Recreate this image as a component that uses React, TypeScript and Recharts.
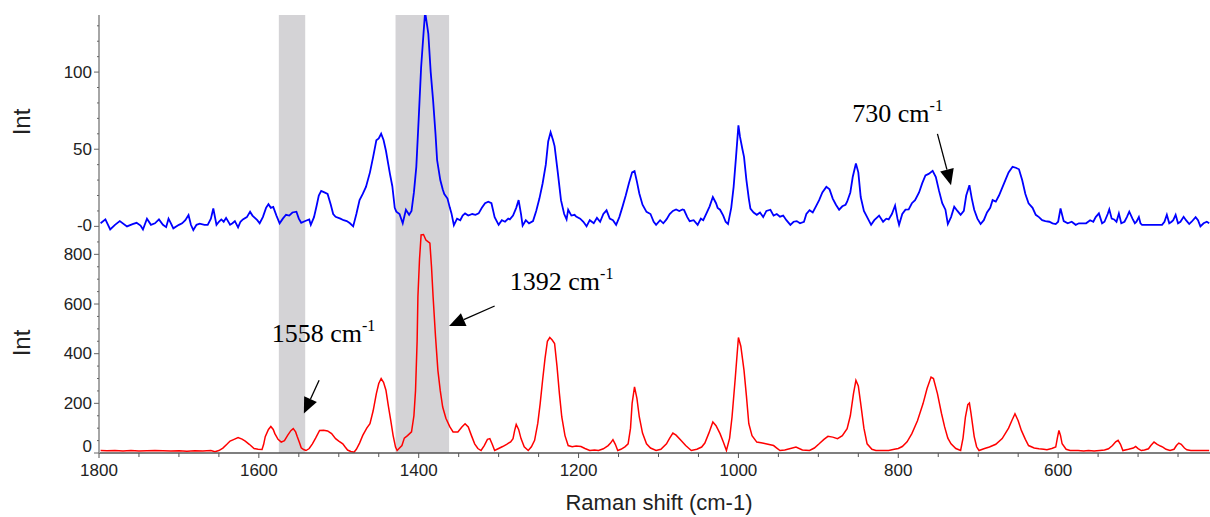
import { LineChart, Line, XAxis, YAxis, ReferenceArea, ReferenceLine, ReferenceDot } from 'recharts'

// top spectrum (blue)
const blueShift = [
  1798, 1792, 1786, 1780, 1774, 1765, 1758, 1753, 1748, 1745,
  1740, 1735, 1730, 1725, 1720, 1716, 1713, 1710, 1707, 1700,
  1696, 1692, 1688, 1685, 1682, 1678, 1674, 1668, 1664, 1660,
  1657, 1653, 1650, 1647, 1644, 1641, 1636, 1633, 1630, 1626,
  1623, 1620, 1615, 1611, 1608, 1605, 1602, 1599, 1595, 1591,
  1588, 1585, 1582, 1578, 1574, 1570, 1566, 1562, 1558, 1553,
  1550, 1547, 1542, 1537, 1535, 1531, 1528, 1525, 1522, 1518,
  1514, 1510, 1507, 1504, 1498, 1494, 1490, 1486, 1482, 1478,
  1474, 1470, 1466, 1461, 1457, 1453, 1450, 1447, 1444, 1441,
  1438, 1436, 1433, 1430, 1428, 1424, 1420, 1416, 1412, 1409,
  1406, 1403, 1400, 1397, 1394, 1392, 1390, 1388, 1385, 1382,
  1379, 1377, 1373, 1370, 1368, 1364, 1361, 1359, 1356, 1352,
  1348, 1345, 1342, 1338, 1333, 1329, 1325, 1321, 1317, 1313,
  1309, 1305, 1300, 1296, 1292, 1288, 1286, 1282, 1278, 1275,
  1272, 1270, 1266, 1262, 1257, 1253, 1249, 1245, 1241, 1238,
  1235, 1232, 1230, 1226, 1222, 1218, 1215, 1213, 1209, 1205,
  1203, 1198, 1194, 1190, 1186, 1181, 1177, 1173, 1169, 1165,
  1161, 1157, 1153, 1149, 1145, 1141, 1137, 1133, 1130, 1127,
  1124, 1120, 1115, 1110, 1106, 1103, 1098, 1094, 1090, 1086,
  1082, 1078, 1074, 1070, 1068, 1064, 1061, 1056, 1051, 1047,
  1044, 1040, 1036, 1032, 1028, 1026, 1023, 1019, 1016, 1013,
  1009, 1006, 1003, 1000, 998, 995, 993, 990, 987, 985,
  981, 977, 973, 969, 965, 960, 956, 952, 948, 944,
  940, 935, 931, 927, 923, 918, 915, 911, 907, 903,
  899, 895, 890, 886, 882, 878, 874, 870, 866, 864,
  860, 857, 853, 850, 847, 843, 838, 834, 830, 826,
  824, 819, 815, 812, 808, 804, 801, 799, 795, 791,
  787, 783, 779, 774, 770, 766, 762, 757, 753, 749,
  745, 741, 738, 734, 730, 726, 722, 718, 715, 711,
  708, 705, 701, 697, 693, 689, 685, 682, 678, 674,
  670, 666, 662, 657, 653, 649, 645, 641, 637, 632,
  628, 624, 620, 616, 611, 607, 603, 600, 597, 593,
  588, 583, 578, 574, 570, 565, 560, 556, 553, 549,
  545, 542, 538, 536, 533, 530, 527, 524, 521, 517,
  514, 511, 507, 504, 502, 499, 497, 495, 490, 485,
  480, 475, 470, 467, 464, 461, 458, 456, 453, 450,
  447, 443, 440, 436, 433, 428, 425, 422, 418, 414,
  411,
]
const blueInt = [
  2, 4.5, -2, 1, 3.4, 0, 1.5, 2.3, 0.5, -2,
  5, 1, 2, 4.5, 1, -0.5, 5, 2, -1.3, 1,
  2, 4, 7.3, 1, -2.4, 1, 1.7, 1, 1, 5,
  11.6, 1, 3, 4.5, 3, 5.5, 1, 2, 3.4, -0.7,
  3, 4.5, 6, 9.5, 7, 5.5, 4, 2, 6, 12,
  14.4, 12, 12.6, 7, 2, 5, 7.5, 7, 9, 9.5,
  5, 2.3, 3.5, 4.5, 1, 6, 12.7, 20, 23, 22,
  21, 14, 8, 6.2, 5, 4, 3.4, 2, 0, 8,
  17, 21, 25.6, 35, 45, 55.8, 57, 60, 56, 49,
  40, 34, 26, 12, 9.5, 8, 2, 10.8, 7.5, 10,
  22, 38.6, 70, 103, 125, 139, 132, 125, 100, 81.7,
  60, 43, 30, 24, 21, 18, 12, 8.4, 0.8, 5,
  4, 7, 8.4, 7, 8, 7.5, 8.4, 12, 15, 16,
  15, 6, 1, 4, 3, 5, 4.5, 7, 12, 17,
  8, 0.5, 4, 2, 3.4, 10, 18, 27.8, 40, 55,
  61, 56, 52, 35, 17, 8, 4.5, 10.8, 7, 7.5,
  6.3, 5, 3, 0, 4, 2, 5.5, 3, 8, 10.4,
  5, 4, 1, 6, 12.8, 20, 28, 35, 35.8, 29,
  21.3, 14, 9.4, 8, 3, 1, 4, 2, 4.5, 8,
  10, 11, 10, 11, 10.6, 6, 3.4, 4, 1, 5,
  4, 8.4, 13, 19, 15, 12, 10.8, 7, 3, 1.5,
  12, 25.6, 45, 65.5, 58, 50, 45, 30, 18, 11.5,
  9, 7.5, 9, 6, 10, 10.8, 7, 8, 6.3, 7,
  4, 1, 3, 3.4, 2, 3, 8, 10.5, 9, 13,
  17, 22, 25.6, 24, 18, 14, 10.8, 13, 14, 16,
  22, 32, 40.7, 35, 19, 10, 5, 1, 4, 6,
  7, 3, 5, 4.5, 8, 13.5, 5, 1, 8, 10.8,
  11, 15, 17, 22, 28, 33, 34, 36, 32, 23,
  15, 10.8, 1.5, 6, 12.8, 10, 7.5, 10, 20, 26.7,
  18, 10.8, 5, 1.5, 4, 9, 12, 17, 16, 20,
  25, 30, 35, 38.6, 38, 37, 30, 21, 15, 12,
  7.5, 6, 4, 3.4, 3, 2, 1.5, 3, 11.6, 3.4,
  2, 3, 1, 2, 2, 2, 4, 3, 6, 8.4,
  2, 3, 8, 11, 5, 4.5, 3, 8.4, 2, 3,
  6, 9.5, 5, 2, 3, 6, 2, 1, 1, 1,
  1, 1, 1, 3, 7.5, 2, 3, 4, 7.5, 2,
  3, 6.2, 4, 1.5, 3, 6, 4, 0, 2, 3,
  2,
]

// bottom spectrum (red)
const redShift = [
  1798, 1790, 1780, 1770, 1760, 1750, 1740, 1730, 1720, 1710,
  1700, 1690, 1680, 1670, 1660, 1655, 1650, 1645, 1640, 1636,
  1631, 1626, 1621, 1617, 1612, 1606, 1601, 1596, 1594, 1592,
  1588, 1585, 1582, 1580, 1576, 1572, 1568, 1564, 1560, 1557,
  1554, 1552, 1549, 1547, 1544, 1541, 1537, 1533, 1529, 1524,
  1519, 1514, 1509, 1504, 1500, 1495, 1492, 1489, 1485, 1481,
  1478, 1474, 1470, 1465, 1461, 1457, 1453, 1450, 1447, 1444,
  1441, 1438, 1435, 1432, 1429, 1427, 1424, 1421, 1418, 1414,
  1409, 1406, 1404, 1402, 1401, 1399, 1397, 1394, 1391, 1388,
  1386, 1384, 1382, 1379, 1376, 1373, 1370, 1366, 1361, 1357,
  1351, 1346, 1342, 1338, 1334, 1330, 1326, 1322, 1318, 1314,
  1311, 1308, 1305, 1300, 1295, 1290, 1285, 1282, 1280, 1278,
  1275, 1272, 1268, 1263, 1259, 1255, 1251, 1248, 1245, 1242,
  1239, 1236, 1233, 1230, 1227, 1224, 1221, 1217, 1213, 1208,
  1203, 1197, 1192, 1186, 1180, 1175, 1169, 1163, 1160, 1157,
  1154, 1151, 1147, 1142, 1138, 1135, 1133, 1130, 1127, 1124,
  1120, 1115, 1110, 1103, 1097, 1090, 1086, 1082, 1078, 1072,
  1066, 1059, 1052, 1046, 1042, 1037, 1032, 1028, 1023, 1019,
  1015, 1011, 1008, 1004, 1000, 997, 993, 990, 987, 983,
  977, 970, 963, 956, 952, 948, 942, 936, 928, 920,
  911, 905, 899, 893, 888, 882, 876, 870, 864, 860,
  856, 853, 850, 847, 843, 839, 833, 828, 820, 812,
  805, 800, 795, 789, 783, 776, 769, 764, 759, 756,
  751, 746, 742, 738, 734, 728, 722, 719, 716, 713,
  711, 709, 705, 702, 699, 692, 686, 678, 670, 662,
  658, 654, 650, 646, 641, 637, 630, 624, 618, 614,
  608, 603, 601, 599, 597, 595, 590, 585, 575, 568,
  562, 555, 548, 542, 537, 532, 528, 525, 522, 519,
  512, 506, 503, 500, 496, 492, 487, 484, 480, 476,
  472, 469, 465, 460, 455, 452, 449, 446, 442, 439,
  434, 428, 420, 411,
]
const redInt = [
  10, 9, 10, 8, 10, 8, 9, 10, 9, 8,
  9, 7, 9, 8, 10, 5, 10, 20, 35, 48,
  55, 62, 56, 48, 35, 18, 15, 14, 35, 66,
  95, 107, 95, 78, 55, 44, 50, 71, 90, 98,
  85, 66, 40, 21, 14, 10, 18, 37, 60, 91,
  92, 89, 78, 58, 48, 37, 24, 12, 6, 3,
  15, 40, 71, 100, 118, 170, 239, 280, 300, 285,
  253, 190, 131, 70, 24, 10, 20, 30, 60, 70,
  85, 150, 250, 450, 629, 780, 878, 880, 858, 850,
  845, 750, 629, 470, 333, 250, 185, 140, 105, 85,
  85, 105, 118, 105, 70, 37, 18, 10, 30, 55,
  58, 35, 10, 18, 26, 35, 45, 58, 90, 115,
  95, 58, 25, 10, 25, 51, 120, 200, 293, 380,
  450, 465, 455, 441, 350, 240, 145, 70, 30, 25,
  28, 26, 18, 10, 12, 10, 17, 30, 40, 54,
  35, 10, 15, 25, 37, 100, 200, 266, 220, 145,
  80, 37, 20, 10, 15, 37, 60, 80, 72, 51,
  30, 10, 15, 24, 40, 80, 125, 110, 78, 45,
  10, 60, 145, 300, 465, 430, 333, 230, 118, 70,
  44, 40, 35, 30, 20, 10, 12, 17, 24, 12,
  10, 20, 37, 55, 67, 64, 58, 70, 98, 150,
  240, 293, 270, 199, 100, 37, 15, 10, 10, 10,
  15, 18, 26, 45, 78, 130, 199, 260, 306, 300,
  239, 160, 105, 60, 37, 18, 10, 60, 145, 195,
  201, 160, 66, 25, 10, 18, 24, 35, 58, 100,
  130, 158, 130, 91, 55, 30, 20, 17, 15, 13,
  18, 24, 60, 91, 70, 37, 15, 10, 10, 8,
  10, 8, 10, 12, 17, 30, 45, 51, 35, 10,
  15, 20, 26, 18, 10, 12, 17, 30, 44, 35,
  28, 24, 15, 10, 15, 30, 40, 35, 20, 13,
  10, 10, 10, 10,
]

const xTicks = [1800, 1750, 1700, 1650, 1600, 1550, 1500, 1450, 1400, 1350, 1300, 1250, 1200, 1150, 1100, 1050, 1000, 950, 900, 850, 800, 750, 700, 650, 600, 550, 500, 450]
const topTicks = [0, 10, 20, 30, 40, 50, 60, 70, 80, 90, 100, 110, 120, 130]
const bottomTicks = [0, 50, 100, 150, 200, 250, 300, 350, 400, 450, 500, 550, 600, 650, 700, 750, 800, 850]

// shaded bands (cm-1)
const bandFrom = [1575, 1429]
const bandTo = [1542, 1362]

const blueData = blueShift.map((s, i) => ({ shift: s, int: blueInt[i] }))
const redData = redShift.map((s, i) => ({ shift: s, int: redInt[i] }))

const SANS = "'Liberation Sans', Arial, sans-serif"
const SERIF = "'Liberation Serif', 'Times New Roman', serif"

function YTick({ x, y, payload, major, zeroText, zeroShift }: any) {
    const v = payload.value
    const isMajor = v % major === 0
    const label = v === 0 ? zeroText : String(v)
    return (
        <g>
            <line x1={x} x2={x - (isMajor ? 5 : 2)} y1={y} y2={y} stroke="#666" />
            {isMajor && (
                <text x={x - 7} y={y - (v === 0 ? zeroShift : 0)} textAnchor="end" dominantBaseline="central"
                    style={{ fill: '#222', fontSize: 17, fontFamily: SANS }}>
                    {label}
                </text>
            )}
        </g>
    )
}

function XTick({ x, y, payload }: any) {
    const v = payload.value
    const isMajor = v % 200 === 0
    return (
        <g>
            <line x1={x} x2={x} y1={y} y2={y + (isMajor ? 5 : 4)} stroke="#555" />
            {isMajor && (
                <text x={x} y={y + 17} textAnchor="middle" dominantBaseline="central"
                    style={{ fill: '#222', fontSize: 17, fontFamily: SANS }}>
                    {v}
                </text>
            )}
        </g>
    )
}

function Arrow({ x1, y1, x2, y2 }: any) {
    const dx = x2 - x1, dy = y2 - y1
    const len = Math.hypot(dx, dy)
    const ux = dx / len, uy = dy / len
    const hl = 16, hw = 7
    const bx = x2 - ux * hl, by = y2 - uy * hl
    return (
        <g>
            <line x1={x1} y1={y1} x2={bx} y2={by} stroke="#000" strokeWidth={1.3} />
            <polygon points={`${x2},${y2} ${bx - uy * hw},${by + ux * hw} ${bx + uy * hw},${by - ux * hw}`} fill="#000" />
        </g>
    )
}

function PeakLabel({ cx, cy, text }: any) {
    return (
        <text x={cx} y={cy} style={{ fill: '#000', fontSize: 26, fontFamily: SERIF }}>
            <tspan>{text} cm</tspan>
            <tspan dy={-11} style={{ fontSize: 16 }}>-1</tspan>
        </text>
    )
}

const xAxisProps = {
    dataKey: 'shift',
    type: 'number' as const,
    domain: [410, 1800],
    reversed: true,
    allowDataOverflow: true,
    ticks: xTicks,
    interval: 0 as const,
    tickSize: 0,
    tickMargin: 0,
}

export default function App() {
    return (
        <div style={{ position: 'absolute', left: 0, top: 0, width: 1210, height: 517, background: '#fff' }}>
            <div style={{ position: 'absolute', left: 0, top: 0 }}>
                <LineChart width={1210} height={242} data={blueData} margin={{ top: 15, right: 0, bottom: 9, left: 0 }}>
                    <XAxis {...xAxisProps} height={0} tick={false} axisLine={{ stroke: '#e3e3e3', strokeWidth: 3 }} />
                    <YAxis type="number" domain={[-4.3, 137]} allowDataOverflow ticks={topTicks} interval={0} width={99}
                        tickSize={0} tickMargin={0} axisLine={{ stroke: '#a6a6a6', strokeWidth: 2 }}
                        tick={<YTick major={50} zeroText="-0" zeroShift={1} />} />
                    <Line dataKey="int" stroke="#0000ff" strokeWidth={1.8} dot={false} type="linear" isAnimationActive={false} />
                    {bandFrom.map((f, i) => (
                        <ReferenceArea key={i} x1={f} x2={bandTo[i]} fill="#aaa8ad" fillOpacity={0.5} stroke="none" />
                    ))}
                    <ReferenceLine segment={[{ x: 751, y: 60 }, { x: 734, y: 26.7 }]} shape={<Arrow />} />
                    <ReferenceDot x={857.5} y={67.5} r={0} shape={(p: any) => <PeakLabel cx={p.cx} cy={p.cy} text="730" />} />
                </LineChart>
            </div>
            <div style={{ position: 'absolute', left: 0, top: 233 }}>
                <LineChart width={1210} height={284} data={redData} margin={{ top: 0, right: 0, bottom: 0, left: 0 }}>
                    <XAxis {...xAxisProps} height={64} axisLine={{ stroke: '#555', strokeWidth: 1.5 }} tick={<XTick />} />
                    <YAxis type="number" domain={[0, 886]} allowDataOverflow ticks={bottomTicks} interval={0} width={99}
                        tickSize={0} tickMargin={0} axisLine={{ stroke: '#a6a6a6', strokeWidth: 2 }}
                        tick={<YTick major={200} zeroText="0" zeroShift={7} />} />
                    <Line dataKey="int" stroke="#ff0000" strokeWidth={1.5} dot={false} type="linear" isAnimationActive={false} />
                    {bandFrom.map((f, i) => (
                        <ReferenceArea key={i} x1={f} x2={bandTo[i]} fill="#aaa8ad" fillOpacity={0.5} stroke="none" />
                    ))}
                    <ReferenceLine segment={[{ x: 1524.6, y: 293 }, { x: 1543.7, y: 158.6 }]} shape={<Arrow />} />
                    <ReferenceLine segment={[{ x: 1305, y: 592 }, { x: 1362, y: 511 }]} shape={<Arrow />} />
                    <ReferenceDot x={1584} y={447.5} r={0} shape={(p: any) => <PeakLabel cx={p.cx} cy={p.cy} text="1558" />} />
                    <ReferenceDot x={1286} y={656} r={0} shape={(p: any) => <PeakLabel cx={p.cx} cy={p.cy} text="1392" />} />
                </LineChart>
            </div>
            <div style={{ position: 'absolute', left: 22, top: 122, transform: 'translate(-50%, -50%) rotate(-90deg)', fontFamily: SANS, fontSize: 24, color: '#222', whiteSpace: 'nowrap' }}>Int</div>
            <div style={{ position: 'absolute', left: 22, top: 343, transform: 'translate(-50%, -50%) rotate(-90deg)', fontFamily: SANS, fontSize: 24, color: '#222', whiteSpace: 'nowrap' }}>Int</div>
            <div style={{ position: 'absolute', left: 659, top: 503, transform: 'translate(-50%, -50%)', fontFamily: SANS, fontSize: 22, color: '#222', whiteSpace: 'nowrap' }}>Raman shift (cm-1)</div>
        </div>
    )
}
